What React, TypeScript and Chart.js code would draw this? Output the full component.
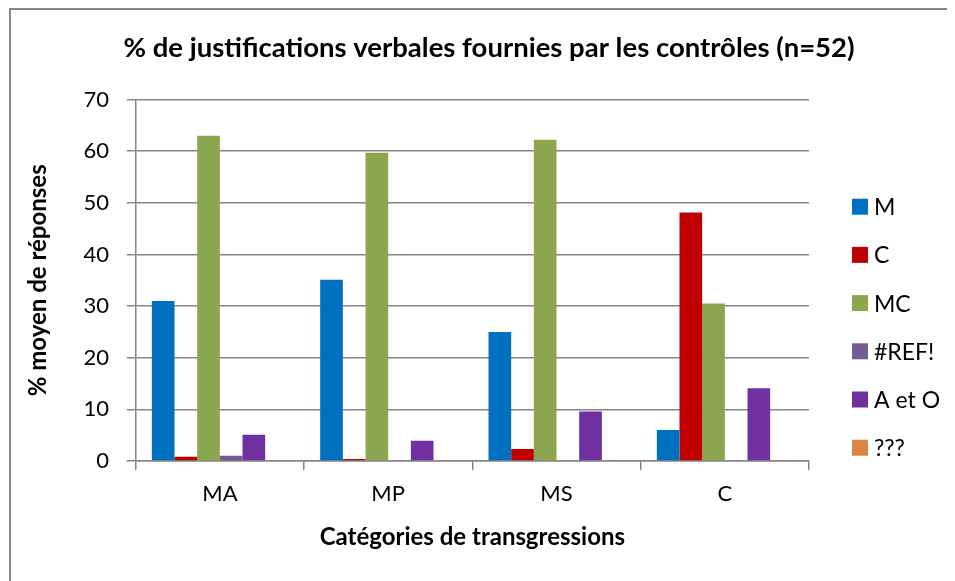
import React, { useEffect, useRef } from "react";
import { Chart, registerables } from "chart.js";

Chart.register(...registerables);

const titleText = "% de justifications verbales fournies par les contrôles (n=52)";
const categories = ["MA", "MP", "MS", "C"];
const seriesNames = ["M", "C", "MC", "#REF!", "A et O", "???"];
const seriesM = [31, 35.1, 25, 6];
const seriesC = [0.8, 0.4, 2.3, 48.1];
const seriesMC = [63, 59.7, 62.2, 30.5];
const seriesREF = [1, 0, 0, 0];
const seriesAO = [5.1, 3.9, 9.6, 14.1];
const seriesQ = [0, 0, 0, 0];
const seriesColors = ["#0070C0", "#C00000", "#8BA64F", "#765A92", "#7030A0", "#DD8440"];
const yTicks = [0, 10, 20, 30, 40, 50, 60, 70];

const FONT = "Lato, 'Open Sans', sans-serif";
const GRID = "#868686";

const decorPlugin = {
  id: "decor",
  afterDraw(chart: any) {
    const ctx = chart.ctx;
    ctx.save();
    // title
    ctx.font = `bold 27.5px ${FONT}`;
    ctx.fillStyle = "#000";
    ctx.textAlign = "center";
    ctx.textBaseline = "middle";
    ctx.fillText(titleText, 481, 40);
    // legend
    ctx.font = `23px ${FONT}`;
    ctx.textAlign = "left";
    chart.data.datasets.forEach((ds: any, i: number) => {
      const cy = 198.7 + i * 48.2;
      ctx.fillStyle = ds.backgroundColor;
      ctx.fillRect(844, cy - 8, 16, 16);
      ctx.fillStyle = "#000";
      ctx.fillText(ds.label, 866, cy + 1);
    });
    ctx.restore();
  },
};

export default function App() {
  const ref = useRef<HTMLCanvasElement>(null);
  useEffect(() => {
    if (!ref.current) return;
    const values = [seriesM, seriesC, seriesMC, seriesREF, seriesAO, seriesQ];
    const chart = new Chart(ref.current, {
      type: "bar",
      data: {
        labels: categories,
        datasets: values.map((v, i) => ({
          label: seriesNames[i],
          data: v,
          backgroundColor: seriesColors[i],
          borderWidth: 0,
          categoryPercentage: 0.808,
          barPercentage: 1,
        })),
      },
      options: {
        animation: false,
        responsive: false,
        maintainAspectRatio: false,
        layout: { padding: { left: 0, right: 146, top: 91.5, bottom: 0 } },
        plugins: {
          legend: { display: false },
          tooltip: { enabled: false },
          title: { display: false },
        },
        scales: {
          x: {
            offset: true,
            grid: {
              offset: true,
              drawOnChartArea: false,
              drawTicks: true,
              tickLength: 9,
              color: GRID,
              lineWidth: 1.5,
            },
            border: { display: true, color: GRID, width: 1.5 },
            ticks: {
              color: "#000",
              font: { family: FONT, size: 22 },
              padding: 10.8,
              maxRotation: 0,
            },
            title: {
              display: true,
              text: "Catégories de transgressions",
              color: "#000",
              font: { family: FONT, size: 24, weight: "bold" },
              padding: { top: 0, bottom: 29.6 },
            },
            afterFit(scale: any) {
              scale.height = 120;
            },
          },
          y: {
            min: 0,
            max: 70,
            afterBuildTicks(scale: any) {
              scale.ticks = yTicks.map((v) => ({ value: v }));
            },
            grid: {
              drawTicks: true,
              tickLength: 9,
              color: GRID,
              lineWidth: 1.5,
            },
            border: { display: true, color: GRID, width: 1.5 },
            ticks: {
              color: "#000",
              font: { family: FONT, size: 22 },
              padding: 17.7,
            },
            title: {
              display: true,
              text: "% moyen de réponses",
              color: "#000",
              font: { family: FONT, size: 24, weight: "bold" },
              padding: { top: 15.6, bottom: 0 },
            },
            afterFit(scale: any) {
              scale.width = 127.7;
            },
          },
        },
      },
      plugins: [decorPlugin],
    });
    return () => chart.destroy();
  }, []);

  return (
    <div style={{ position: "relative", width: 947, height: 573, background: "#fff" }}>
      <canvas ref={ref} width={947} height={573} style={{ display: "block" }} />
      <div
        style={{
          position: "absolute",
          left: 1,
          top: 0,
          right: 0,
          bottom: 0,
          borderLeft: `2px solid ${GRID}`,
          borderTop: `2px solid ${GRID}`,
          pointerEvents: "none",
        }}
      />
    </div>
  );
}
